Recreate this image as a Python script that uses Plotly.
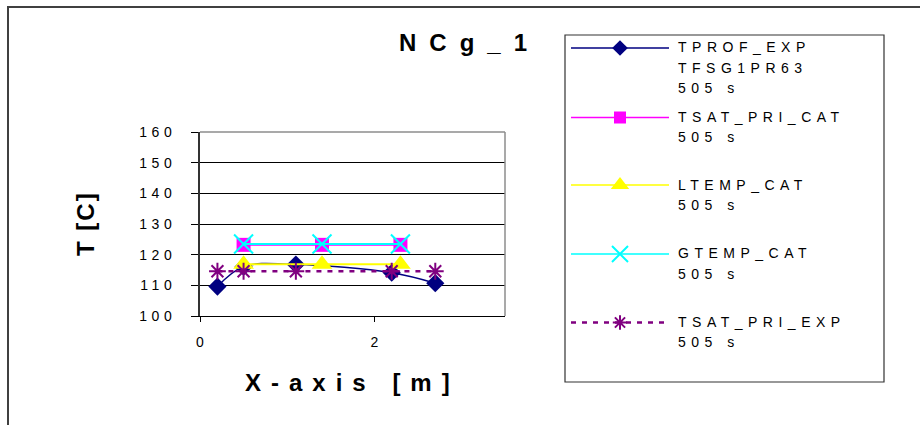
import plotly.graph_objects as go

# ---------------- data ----------------
x_exp = [0.2, 0.5, 1.1, 2.2, 2.7]
tprof_exp = [109.6, 116.1, 116.8, 114.1, 110.7]
tsat_pri_exp = [114.6, 114.6, 114.6, 114.6, 114.6]

x_cat = [0.5, 1.4, 2.3]
tsat_pri_cat = [123.2, 123.2, 123.2]
ltemp_cat = [116.9, 116.9, 116.9]
gtemp_cat = [123.5, 123.5, 123.5]

y_ticks = [100, 110, 120, 130, 140, 150, 160]
x_ticks = [0, 2]

title_text = "NCg_1"
x_title = "X-axis [m]"
y_title = "T [C]"

legend_names = ["TPROF_EXP", "TSAT_PRI_CAT", "LTEMP_CAT", "GTEMP_CAT", "TSAT_PRI_EXP"]
legend_sub = [["TFSG1PR63", "505 s"], ["505 s"], ["505 s"], ["505 s"], ["505 s"]]

# ---------------- styles ----------------
FONT = "Arial, Liberation Sans, sans-serif"
W, H = 920, 425
L, R, T, B = 200, 505, 132, 316       # plot area in pixels
PL, PR, PT, PB = 200, 884, 35, 382    # paper area (plot + legend box) in pixels


def fx(px):
    return (px - PL) / (PR - PL)


def fy(py):
    return (PB - py) / (PB - PT)


def sp(text, s):
    return f'<span style="letter-spacing:{s}px">{text}</span>'


series = [
    dict(name=legend_names[0], x=x_exp, y=tprof_exp, color="#000080", dash="solid", width=1.5,
         shape="spline", symbol="diamond", msize=14, lsize=12, mline=0),
    dict(name=legend_names[1], x=x_cat, y=tsat_pri_cat, color="#FF00FF", dash="solid", width=2,
         shape="linear", symbol="square", msize=14, lsize=12, mline=0),
    dict(name=legend_names[2], x=x_cat, y=ltemp_cat, color="#FFFF00", dash="solid", width=2,
         shape="linear", symbol="triangle-up", msize=18, lsize=16, mline=0),
    dict(name=legend_names[3], x=x_cat, y=gtemp_cat, color="#00FFFF", dash="solid", width=2,
         shape="linear", symbol="x-thin-open", msize=19, lsize=16, mline=2),
    dict(name=legend_names[4], x=x_exp, y=tsat_pri_exp, color="#800080", dash="5px,6px", width=2.5,
         shape="linear", symbol="asterisk-open", msize=14, lsize=12, mline=2),
]

fig = go.Figure()
for s in series:
    marker = dict(symbol=s["symbol"], size=s["msize"], color=s["color"])
    if s["mline"]:
        marker["line"] = dict(color=s["color"], width=s["mline"])
    fig.add_trace(go.Scatter(
        x=s["x"], y=s["y"], mode="lines+markers", name=s["name"],
        line=dict(color=s["color"], width=s["width"], dash=s["dash"], shape=s["shape"]),
        marker=marker, cliponaxis=False, showlegend=False,
    ))

# ---------------- manual legend ----------------
legend_line_y = [48, 117.5, 185, 254, 322.5]
legend_text_rows = [[46.7, 67.7, 88.3], [116.7, 137.3], [184.7, 205], [253.3, 274.3], [321.7, 341.7]]
shapes = []
annotations = []
for s, ly, rows, name, sub in zip(series, legend_line_y, legend_text_rows, legend_names, legend_sub):
    shapes.append(dict(type="line", xref="paper", yref="paper", x0=fx(571), x1=fx(669),
                       y0=fy(ly), y1=fy(ly),
                       line=dict(color=s["color"], width=1.5 if s["dash"] == "solid" else 2.5,
                                 dash=s["dash"])))
    marker = dict(symbol=s["symbol"], size=s["lsize"], color=s["color"])
    if s["mline"]:
        marker["line"] = dict(color=s["color"], width=s["mline"])
    fig.add_trace(go.Scatter(x=[620], y=[ly], xaxis="x2", yaxis="y2", mode="markers",
                             marker=marker, cliponaxis=False, showlegend=False, hoverinfo="skip"))
    for txt, ry in zip([name] + sub, rows):
        annotations.append(dict(text=sp(txt, 5.5), xref="paper", yref="paper", x=fx(676), y=fy(ry),
                                xanchor="left", yanchor="middle", showarrow=False,
                                font=dict(family=FONT, size=14, color="black")))

# legend box
shapes.append(dict(type="rect", xref="paper", yref="paper", x0=fx(565), x1=fx(884),
                   y0=fy(35), y1=fy(382), line=dict(color="#333333", width=1.2)))
# outer frame
shapes.append(dict(type="rect", xref="paper", yref="paper", x0=fx(8), x1=fx(940),
                   y0=fy(7), y1=fy(445), line=dict(color="#404040", width=2)))
# plot area top/right border
shapes.append(dict(type="line", xref="paper", yref="paper", x0=fx(L), x1=fx(R), y0=fy(T), y1=fy(T),
                   line=dict(color="#8c8c8c", width=1.5)))
shapes.append(dict(type="line", xref="paper", yref="paper", x0=fx(R), x1=fx(R), y0=fy(B), y1=fy(T),
                   line=dict(color="#8c8c8c", width=1.5)))

# titles
annotations.append(dict(text="<b>" + sp(title_text, 13) + "</b>", xref="paper", yref="paper",
                        x=fx(397), y=fy(42), xanchor="left", yanchor="middle", showarrow=False,
                        font=dict(family=FONT, size=24, color="black")))
annotations.append(dict(text="<b>" + sp(x_title, 10) + "</b>", xref="paper", yref="paper",
                        x=fx(243), y=fy(382), xanchor="left", yanchor="middle", showarrow=False,
                        font=dict(family=FONT, size=24, color="black")))
annotations.append(dict(text="<b>" + sp(y_title, 2) + "</b>", xref="paper", yref="paper",
                        x=fx(85), y=fy(224), xanchor="center", yanchor="middle", showarrow=False,
                        textangle=-90, font=dict(family=FONT, size=24, color="black")))

fig.update_layout(
    width=W, height=H,
    margin=dict(l=PL, r=W - PR, t=PT, b=H - PB, pad=0, autoexpand=False),
    paper_bgcolor="white", plot_bgcolor="rgba(0,0,0,0)",
    showlegend=False,
    font=dict(family=FONT, size=13, color="black"),
    xaxis=dict(domain=[fx(L), fx(R)], range=[0, 3.5], tickvals=x_ticks,
               ticktext=[str(v) for v in x_ticks],
               ticks="outside", ticklen=5, tickcolor="black", tickwidth=1,
               showline=True, linecolor="black", linewidth=1, showgrid=False, zeroline=False,
               ticklabelstandoff=8, tickfont=dict(family=FONT, size=14, color="black")),
    yaxis=dict(domain=[fy(B), fy(T)], range=[100, 160], tickvals=y_ticks,
               ticktext=[sp(str(v), 4.5) for v in y_ticks],
               ticks="outside", ticklen=7, tickcolor="black", tickwidth=1,
               showline=True, linecolor="#333333", linewidth=2, showgrid=True,
               gridcolor="black", gridwidth=1, zeroline=False,
               ticklabelstandoff=12, tickfont=dict(family=FONT, size=14, color="black")),
    xaxis2=dict(domain=[0, 1], anchor="y2", range=[PL, PR], visible=False),
    yaxis2=dict(domain=[0, 1], anchor="x2", range=[PB, PT], visible=False),
    shapes=shapes,
    annotations=annotations,
)

fig.write_html("out.html")
